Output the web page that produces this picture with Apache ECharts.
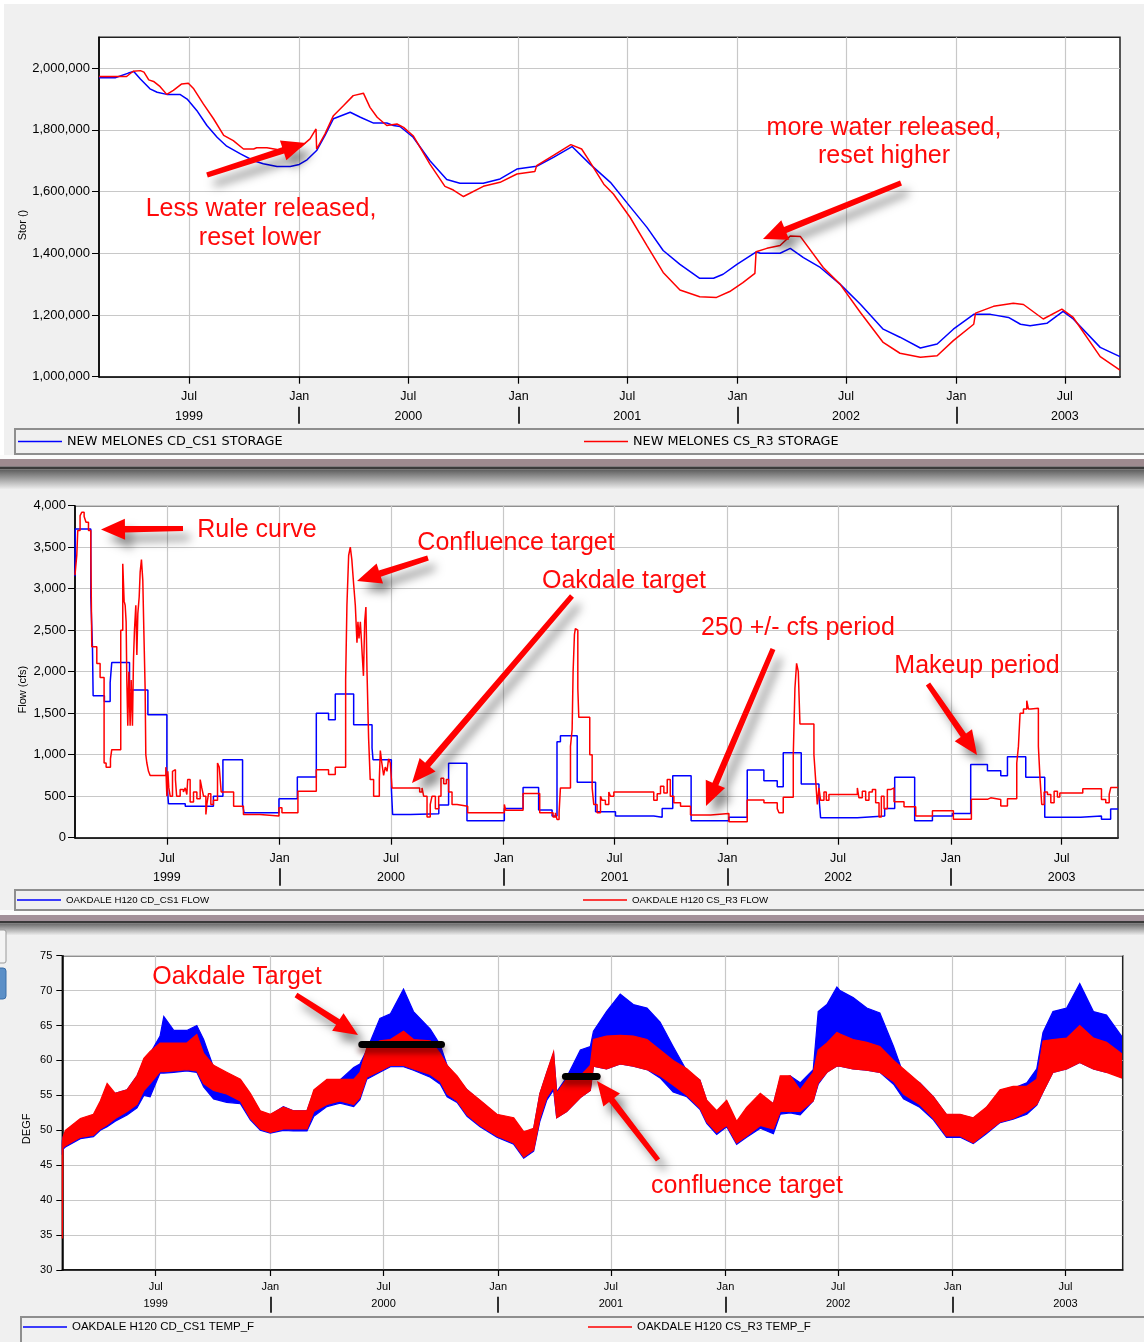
<!DOCTYPE html>
<html>
<head>
<meta charset="utf-8">
<script src="https://cdn.jsdelivr.net/npm/echarts@6/dist/echarts.min.js"></script>
<style>
html,body{margin:0;padding:0;background:#f0f0f0;}
#c{width:1144px;height:1342px;}
</style>
</head>
<body>
<div id="c"></div>
<script>
// ---------- time base: x values are day offsets from 1999-02-01 ----------
const START_DATE = '1999-02-01';
const END_DAY = 1703; // 2003-10-01

// ---------- axis tick labels ----------
const halfYearTickDates = ['1999-07-01','2000-01-01','2000-07-01','2001-01-01','2001-07-01','2002-01-01','2002-07-01','2003-01-01','2003-07-01'];
const yearSeparatorDates = ['2000-01-01','2001-01-01','2002-01-01','2003-01-01'];
const yearLabelDates = ['1999-07-01','2000-07-01','2001-07-01','2002-07-01','2003-07-01'];
const storageTicks = [1000000,1200000,1400000,1600000,1800000,2000000];

// ---------- panel 1: New Melones storage (acre-feet) [day, value] ----------
const storageCD = [[0,1969000],[27,1969000],[49,1984000],[58,1989000],[69,1965000],[85,1933000],[97,1922000],[113,1915000],[135,1915000],[147,1900000],[163,1863000],[180,1814000],[197,1776000],[213,1747000],[236,1722000],[258,1700000],[274,1690000],[297,1681000],[319,1681000],[334,1688000],[347,1703000],[363,1733000],[377,1782000],[391,1836000],[419,1857000],[436,1841000],[458,1822000],[480,1822000],[491,1814000],[502,1811000],[524,1776000],[552,1700000],[580,1639000],[602,1627000],[641,1627000],[669,1641000],[697,1673000],[730,1682000],[758,1711000],[789,1746000],[819,1689000],[853,1630000],[880,1565000],[914,1484000],[941,1409000],[969,1364000],[1002,1319000],[1025,1319000],[1041,1332000],[1064,1364000],[1097,1405000],[1103,1400000],[1136,1400000],[1153,1416000],[1175,1386000],[1203,1354000],[1236,1300000],[1270,1235000],[1308,1154000],[1336,1128000],[1370,1093000],[1398,1106000],[1425,1154000],[1459,1202000],[1487,1202000],[1517,1192000],[1537,1170000],[1553,1165000],[1581,1173000],[1608,1212000],[1625,1187000],[1670,1095000],[1703,1065000]];
const storageCS = [[0,1973000],[46,1973000],[57,1990000],[69,1992000],[75,1987000],[83,1962000],[91,1957000],[102,1940000],[113,1915000],[124,1928000],[138,1949000],[149,1951000],[158,1933000],[174,1884000],[191,1836000],[208,1782000],[224,1765000],[241,1738000],[258,1738000],[263,1742000],[280,1742000],[297,1736000],[313,1728000],[336,1744000],[352,1771000],[362,1803000],[363,1738000],[377,1787000],[391,1846000],[408,1879000],[424,1911000],[441,1919000],[452,1873000],[464,1841000],[480,1814000],[497,1819000],[508,1808000],[524,1781000],[552,1689000],[577,1617000],[591,1605000],[608,1584000],[641,1617000],[669,1630000],[697,1657000],[727,1665000],[730,1684000],[758,1717000],[787,1752000],[805,1738000],[816,1705000],[842,1624000],[858,1592000],[886,1516000],[914,1425000],[941,1338000],[969,1281000],[1002,1259000],[1030,1257000],[1052,1276000],[1074,1305000],[1094,1335000],[1096,1405000],[1114,1416000],[1136,1425000],[1153,1456000],[1170,1454000],[1208,1354000],[1236,1300000],[1270,1208000],[1308,1111000],[1336,1076000],[1370,1063000],[1398,1068000],[1425,1117000],[1459,1170000],[1462,1206000],[1492,1228000],[1525,1238000],[1542,1234000],[1575,1187000],[1606,1219000],[1625,1192000],[1670,1065000],[1703,1021000]];

// ---------- panel 2: Oakdale flow (cfs) [day, value], each value holds until next day ----------
const flowCD = [[0,3150],[0.5,3720],[25.8,2900],[26.9,2650],[28.5,2300],[29.6,1710],[48,1640],[57.4,1870],[60,2110],[89,1780],[119,1480],[150,820],[151,580],[152.6,410],[180,380],[226,500],[241.5,940],[273.6,400],[276,300],[333,470],[363,730],[394,1500],[414,1420],[425,1730],[455,1360],[485,1080],[486.6,940],[516.5,600],[518.6,280],[547.5,290],[594,394],[610,896],[640,205],[701,353],[731.6,606],[757,333],[779,260],[787,1157],[792.6,1229],[820,667],[850,313],[882.5,261],[945,245],[958.7,353],[976,747],[1006,205],[1067.7,245],[1097.6,815],[1124.8,687],[1146.6,614],[1156.4,1024],[1185.8,647],[1214.7,494],[1217.4,241],[1277.4,261],[1322,353],[1338.4,727],[1371,205],[1400,261],[1432.6,293],[1462.5,883],[1489.8,807],[1511.6,747],[1522.5,976],[1552.4,727],[1583.4,245],[1642,261],[1676,221],[1691,345],[1703,345]];
const flowCS = [[0,3165],[2.9,3400],[4.5,3700],[8.3,3880],[11,3920],[14.9,3870],[18,3800],[22,3700],[25.8,3500],[27.4,2300],[35.6,2100],[41,1930],[47.5,900],[50.8,850],[57.9,950],[60,1060],[74.7,2500],[78,3300],[80.2,2850],[81.9,2800],[83.5,2600],[84.6,1900],[86.2,1350],[87.9,2000],[90,1350],[91.7,1900],[93.8,1350],[95.5,2150],[97.1,2500],[99.3,2800],[101,2200],[102.6,2700],[104.8,2900],[106.4,3200],[108.5,3350],[110.7,3100],[112.4,2500],[114.5,1800],[115.6,1000],[117.3,900],[120,800],[122.7,750],[148.3,850],[150,500],[151.6,800],[153.2,600],[155.4,500],[159.2,800],[162,820],[164,700],[166,500],[171.7,580],[177,550],[180,600],[182.6,520],[184,700],[188,430],[193.5,550],[199,470],[204.4,700],[207,600],[209.9,500],[213.7,280],[215.3,400],[218,530],[221.8,400],[226,450],[232.7,900],[235.5,850],[238.7,550],[259,380],[275,280],[302,260],[333,360],[337.9,300],[364,560],[394,820],[414,760],[425,850],[441.9,1900],[444,2800],[446.8,3400],[449.5,3500],[452,3350],[455,3050],[457.7,2800],[460.4,2350],[462,2600],[463.7,2400],[465.9,2600],[467.5,2400],[469,2200],[471,1950],[473,2600],[475,2780],[476.8,2000],[479.4,1200],[482,700],[487.6,500],[496.9,700],[498.5,1050],[501,900],[503.9,750],[506.6,850],[509.4,800],[512,950],[514.8,900],[517.6,600],[562.8,550],[566.6,600],[569.3,500],[574.8,250],[580,400],[583,500],[588.4,350],[593.8,500],[597.6,715],[602,650],[606.3,700],[610,550],[615.6,400],[623.8,380],[641.2,300],[701,400],[703.3,330],[731.6,534],[758.8,300],[780.6,250],[784.4,300],[787,220],[790.4,300],[792.6,600],[809,1100],[811.7,1300],[813.3,2000],[815.5,2450],[817,2520],[819.8,2500],[821,1800],[822.6,1450],[840.5,1000],[844.4,600],[847,400],[852.5,300],[858,500],[860.7,450],[866,400],[871.6,550],[874.3,500],[879.8,550],[945,450],[950.6,530],[956,620],[961.5,540],[967,700],[972,500],[977.8,420],[988.7,380],[1005,273],[1037.7,293],[1067.7,193],[1097.6,454],[1124.9,420],[1146.6,350],[1149.4,300],[1156.4,486],[1172.8,1000],[1175.5,1800],[1178.2,2100],[1181,2000],[1183.7,1370],[1206.5,1000],[1209.3,700],[1212,400],[1214.7,600],[1217.4,450],[1222.9,550],[1226.7,450],[1231,520],[1277.4,600],[1280,480],[1285.5,560],[1291,450],[1296.4,550],[1301.9,580],[1307.3,420],[1312.8,250],[1316.6,500],[1321,350],[1326.4,580],[1331.8,600],[1337.3,434],[1353.6,373],[1372.7,260],[1400,325],[1434.2,221],[1463.6,462],[1489.8,480],[1495.2,460],[1511.6,381],[1522.5,470],[1537.7,900],[1540.4,1100],[1543.1,1500],[1548.6,1550],[1554,1650],[1556.8,1550],[1560.6,1560],[1573,1100],[1575.8,700],[1578.5,400],[1582.4,550],[1587.8,520],[1593.3,420],[1598.7,560],[1604.1,490],[1608,540],[1645.5,590],[1676,460],[1683,420],[1688.6,520],[1691.3,606],[1703,606]];

// ---------- panel 3: Oakdale temperature (deg F), envelope of the daily swing ----------
const tempDays = [0,1,5,29,50,61,72,85,104,120,
  131,141,157,163,179,200,216,227,243,264,
  286,302,318,334,355,371,393,404,425,446,
  468,478,489,510,527,548,564,591,607,618,
  634,650,671,698,725,741,757,767,778,789,
  794,810,832,848,853,874,896,917,939,960,
  981,1003,1024,1035,1051,1067,1083,1099,1121,1142,
  1153,1169,1185,1206,1214,1228,1244,1249,1270,1292,
  1313,1335,1351,1377,1399,1420,1442,1463,1484,1506,
  1527,1549,1565,1575,1591,1613,1634,1656,1677,1701];
const tempCSLow = [34.5,47.5,47.8,49,49.3,50.2,50.8,51.7,52.7,53.7,
  55.7,56.7,58.4,58.4,58.5,58.7,58.5,56.7,55.7,55.2,
  54.2,51.7,50.2,49.7,50.2,50.2,50.2,52.7,53.7,54.2,
  53.7,54.7,57.6,58.5,59.3,59.3,58.8,58,57,55.2,
  54.2,52.2,50.7,49.2,48.2,46.2,47.2,51.7,54.7,56.2,
  51.8,52.7,54.7,55.7,59.2,58.8,59.5,59.2,58.7,57.8,
  56.5,55,53.2,51.2,49.7,50.7,48.2,49.2,50.7,50.2,
  52.7,52.7,52.7,54.2,56.8,58.3,59.2,59.2,58.8,58.6,
  58.3,57,55.2,53.7,51.7,49.2,49.2,48.2,49.7,51.2,
  51.7,52.7,53.7,55.5,58.3,58.8,59.7,58.8,58.3,57.5];
const tempCSHigh = [48,49,50,51.7,52.3,54.2,56.7,55.3,55.8,57.8,
  60.3,61.3,62.5,62.5,62.5,62.5,63.7,61,59.3,58.3,
  57.3,55.3,52.8,52.3,53.3,52.8,52.8,55.8,57.3,57.3,
  57.3,58.3,61.8,62.8,63,64.2,63,62.8,61,59.3,
  57.8,55.8,54.3,52.3,51.8,49.8,50.3,55.3,58.3,61.2,
  55.3,57.3,57.8,59.3,63,63.5,63.6,63.5,63,61.5,
  60,58.8,57.2,54.3,52.8,54.3,51.3,53.3,55.3,53.8,
  57.8,57.8,55.8,58.3,61.5,62.5,64,63.8,63,62.6,
  62,60,58.8,56.8,54.8,52.3,52.3,51.8,53.3,55.8,
  56.3,56.3,57.3,62.8,63,63.2,65,63.2,62.6,61];
const tempCDLow = [46.5,47.3,47.6,48.8,49.1,50,50.5,51.3,52.2,53.2,
  55,54.8,58.2,58.2,58.3,58.5,58.3,56.2,54.5,54,
  53.8,51.5,50,49.6,50,49.9,49.9,52,53.4,53.9,
  53.4,54.4,57.3,58.3,59.1,59.1,58.6,57.6,56.6,54.8,
  54,52,50.5,49,48,46,47,51.3,54.3,55.8,
  51.8,52.7,54.7,55.7,59.2,58.8,59.5,59.2,58.7,57.5,
  55.5,54.8,53,51,49.4,50.5,48,49,50.3,49.5,
  52.3,52.5,52.2,54.2,56.6,58.3,59.2,59.2,58.8,58.6,
  58.3,56.6,54.5,53.3,51.5,49,49,48.1,49.5,51.1,
  51.6,52.3,53.6,55.5,58.3,58.8,59.7,58.8,58.3,59.5];
const tempCDHigh = [48.5,49,49.8,51.5,52,53.8,55.5,55.3,55.8,57.8,
  60,61,63.5,66.3,64.3,64.3,65,63,59,58,
  57.2,55,52.7,52.2,53.4,52.8,52.8,55.5,57,57.2,
  59,59.5,61.5,66,66.7,70.2,67,64.5,62.2,59.3,
  57.5,55.8,54.2,52.2,51.5,49.6,50.2,55.2,58.2,61,
  55.5,57.6,61.5,62,64.2,67,69.5,68,67.5,65.5,
  62,58.5,57.2,54.2,52.6,54,51.1,52.9,55,53.8,
  57.4,57.8,56.8,58.7,67,68,70.5,70,69,67.5,
  66.8,62,58,56.8,54.8,52.2,52.2,51.7,53.2,55.5,
  56,56.8,58.8,64,67,67.5,71,67,66.5,63.5];

// target bars (day range, temperature)
const oakdaleTargetDays = [481, 609];
const oakdaleTargetTemp = 62.3;
const confluenceTargetDays = [808, 859];
const confluenceTargetTemp = 57.7;

// ---------- names ----------
const NAMES = {
  stCD: 'NEW MELONES CD_CS1 STORAGE', stCS: 'NEW MELONES CS_R3 STORAGE',
  flCD: 'OAKDALE H120 CD_CS1 FLOW', flCS: 'OAKDALE H120 CS_R3 FLOW',
  tpCD: 'OAKDALE H120 CD_CS1 TEMP_F', tpCS: 'OAKDALE H120 CS_R3 TEMP_F'
};

// ---------- helpers ----------
const DAY_MS = 86400000;
const T0 = Date.parse(START_DATE);
const toT = d => T0 + d * DAY_MS;
const X_MIN = toT(0), X_MAX = toT(END_DAY);
const halfYearTicks = halfYearTickDates.map(s => Date.parse(s));
const yearSeps = yearSeparatorDates.map(s => Date.parse(s));
const yearLabels = yearLabelDates.map(s => Date.parse(s));
const pairs = arr => arr.map(p => [toT(p[0]), p[1]]);
const thousands = v => String(v).replace(/\B(?=(\d{3})+(?!\d))/g, ',');
const FONT = '"Liberation Sans", Arial, sans-serif';
const BLUE = '#0000ff', RED = '#ff0000';

const BLACK_LINE = {color:'#000', width:1.5};
const GRIDLINE = {color:'#c8c8c8', width:1.2};

// x axes are numeric time axes (ms since epoch) with the date ticks given above
function mainX(gridIndex, margin, fontSize, tickLen) {
  return {
    type:'value', gridIndex, min:X_MIN, max:X_MAX, scale:true,
    axisLine:{show:true, lineStyle:BLACK_LINE},
    axisTick:{show:true, customValues:halfYearTicks, length:tickLen, lineStyle:{color:'#000', width:1.2}},
    axisLabel:{customValues:halfYearTicks, margin, fontSize, color:'#000', fontFamily:FONT,
      formatter: v => new Date(v).getUTCMonth() === 0 ? 'Jan' : 'Jul'},
    splitLine:{show:true, lineStyle:GRIDLINE}
  };
}
function yearX(gridIndex, offset, tickLen, margin, fontSize) {
  return {
    type:'value', gridIndex, min:X_MIN, max:X_MAX, scale:true, position:'bottom', offset,
    axisLine:{show:false},
    axisTick:{show:true, customValues:yearSeps, length:tickLen, lineStyle:{color:'#000', width:1.6}},
    axisLabel:{customValues:yearLabels, margin, fontSize, color:'#000', fontFamily:FONT,
      formatter: v => String(new Date(v).getUTCFullYear())},
    splitLine:{show:false}
  };
}

const lineSeries = (name, data, color, xi, yi, extra) => Object.assign({
  type:'line', name, data:pairs(data), xAxisIndex:xi, yAxisIndex:yi,
  showSymbol:false, symbol:'none', color, lineStyle:{width:1.5, color}, animation:false, silent:true
}, extra || {});

// temperature band: polygon between low and high envelopes, positioned with api.coord
function bandSeries(name, low, high, color, z) {
  const data = tempDays.map((d,i) => [toT(d), low[i], high[i]]);
  return {
    type:'custom', name, xAxisIndex:4, yAxisIndex:2, data, encode:{x:0, y:[1,2]},
    z, silent:true, animation:false, itemStyle:{color},
    renderItem(params, api) {
      if (params.dataIndexInside !== 0) return null;
      const n = params.dataInsideLength;
      const top = [], bot = [];
      for (let j = 0; j < n; j++) {
        const x = api.value(0, j);
        top.push(api.coord([x, api.value(2, j)]));
        bot.push(api.coord([x, api.value(1, j)]));
      }
      return {type:'polygon', shape:{points: top.concat(bot.reverse())},
        style:{fill:color, stroke:color, lineWidth:1.2}};
    }
  };
}

function targetBar(days, temp) {
  return {type:'line', data:[[toT(days[0]), temp],[toT(days[1]), temp]], xAxisIndex:4, yAxisIndex:2,
    symbol:'none', showSymbol:false, animation:false, silent:true, z:6,
    lineStyle:{color:'#000', width:7, cap:'round', shadowColor:'rgba(60,0,0,0.6)', shadowBlur:6, shadowOffsetY:5}};
}

function legend(name, left, top, fontSize, fontFamily) {
  return {data:[name], left, top, padding:0, icon:'rect', itemWidth:44, itemHeight:1.5,
    selectedMode:false, textStyle:{fontSize, color:'#000', fontFamily}};
}

// ---------- annotation graphics ----------
function arrow(x1, y1, x2, y2, shaft, headL, headW) {
  shaft = shaft || 6.5; headL = headL || 24; headW = headW || 21;
  const dx = x2-x1, dy = y2-y1, L = Math.hypot(dx,dy), ux = dx/L, uy = dy/L, nx = -uy, ny = ux;
  const bx = x2-ux*headL, by = y2-uy*headL, s = shaft/2, h = headW/2;
  const pts = [[x1+nx*s*0.8, y1+ny*s*0.8],[bx+nx*s, by+ny*s],[bx+nx*h, by+ny*h],[x2,y2],
               [bx-nx*h, by-ny*h],[bx-nx*s, by-ny*s],[x1-nx*s*0.8, y1-ny*s*0.8]];
  return {type:'polygon', z:100, silent:true, shape:{points:pts},
    style:{fill:'#ff0000', shadowBlur:10, shadowOffsetX:7, shadowOffsetY:9, shadowColor:'rgba(0,0,0,0.45)'}};
}
function note(text, x, y, size) {
  return {type:'text', z:100, silent:true, x, y,
    style:{text, fill:'#ff0a0a', fontSize:size || 25, fontFamily:FONT, align:'center', verticalAlign:'middle'}};
}
function rect(x, y, w, h, fill, extra) {
  return Object.assign({type:'rect', silent:true, z:0, shape:{x, y, width:w, height:h}, style:{fill}}, extra || {});
}
const fade = c => new echarts.graphic.LinearGradient(0,0,0,1,[{offset:0,color:c},{offset:1,color:'#f0f0f0'}]);
function boxOutline(x, y, w, h) {
  return {type:'rect', silent:true, z:1, shape:{x, y, width:w, height:h},
    style:{fill:'none', stroke:'#8e8e8e', lineWidth:2}};
}

const graphics = [
  rect(0, 0, 1144, 4, '#ffffff'),
  rect(0, 0, 4, 458, '#ffffff'),
  // separator 1
  rect(0, 455, 1144, 4, '#fbfbfb'),
  rect(0, 459, 1144, 7.5, '#9d8a8f'),
  rect(0, 466.5, 1144, 3, '#3a3a3a'),
  rect(0, 469.5, 1144, 20, fade('#5c5c5c')),
  // separator 2
  rect(0, 910, 1144, 5, '#fbfbfb'),
  rect(0, 915, 1144, 6, '#a3919a'),
  rect(0, 921, 1144, 2.5, '#3a3a3a'),
  rect(0, 923.5, 1144, 12, fade('#6a6a6a')),
  // small widget at left of panel 3
  {type:'rect', silent:true, z:1, shape:{x:-4, y:930, width:10, height:33, r:2}, style:{fill:'#f4f4f4', stroke:'#9a9a9a', lineWidth:1}},
  {type:'rect', silent:true, z:1, shape:{x:-4, y:968, width:10, height:31, r:3}, style:{fill:'#5b8fc7', stroke:'#3a6ea8', lineWidth:1}},
  // legend boxes
  boxOutline(15, 429, 1140, 25),
  boxOutline(15, 890, 1140, 20),
  boxOutline(21, 1317, 1140, 30),
  // panel 1 annotations
  arrow(207, 175, 306, 143),
  note('Less water released,', 261, 209),
  note('reset lower', 260, 238),
  arrow(901, 183, 763, 239),
  note('more water released,', 884, 128),
  note('reset higher', 884, 156),
  // panel 2 annotations
  arrow(183, 528.5, 101, 529.5),
  note('Rule curve', 257, 530),
  arrow(428, 558, 357, 581),
  note('Confluence target', 516, 543),
  arrow(572, 596, 412, 783),
  note('Oakdale target', 624, 581),
  arrow(773, 649, 706, 806),
  note('250 +/- cfs period', 798, 628),
  arrow(928, 684, 977, 755),
  note('Makeup period', 977, 666),
  // panel 3 annotations
  arrow(296, 995, 358, 1035),
  note('Oakdale Target', 237, 977),
  arrow(658, 1160, 597, 1081),
  note('confluence target', 747, 1186)
];

const option = {
  backgroundColor:'#f0f0f0',
  animation:false,
  grid:[
    {left:99, top:37.3, width:1021, height:339.4, show:true, backgroundColor:'#ffffff', borderColor:'#222', borderWidth:1.5},
    {left:75, top:505.7, width:1043, height:332, show:true, backgroundColor:'#ffffff', borderColor:'#222', borderWidth:1.5},
    {left:62.3, top:955.7, width:1060.4, height:314.3, show:true, backgroundColor:'#ffffff', borderColor:'#222', borderWidth:1.5}
  ],
  xAxis:[
    mainX(0, 13, 12.5, 7), yearX(0, 30, 17, 3, 12.5),
    mainX(1, 14, 12.5, 7), yearX(1, 30.6, 17.5, 3, 12.5),
    mainX(2, 11, 11, 6), yearX(2, 26.7, 16, 2, 11)
  ],
  yAxis:[
    {type:'value', gridIndex:0, min:1000000, max:2100000, interval:200000,
     axisLine:{show:true, lineStyle:BLACK_LINE},
     axisTick:{show:true, customValues:storageTicks, length:7, lineStyle:{color:'#000'}},
     axisLabel:{customValues:storageTicks, formatter:thousands, fontSize:13, margin:9, color:'#000', fontFamily:FONT},
     splitLine:{show:true, lineStyle:GRIDLINE},
     name:'Stor ()', nameLocation:'middle', nameRotate:90, nameGap:71, nameMoveOverlap:false,
     nameTextStyle:{fontSize:11, color:'#000', fontFamily:FONT, padding:[0,36,0,0]}},
    {type:'value', gridIndex:1, min:0, max:4000, interval:500,
     axisLine:{show:true, lineStyle:BLACK_LINE},
     axisTick:{show:true, length:7, lineStyle:{color:'#000'}},
     axisLabel:{formatter:thousands, fontSize:13, margin:9, color:'#000', fontFamily:FONT},
     splitLine:{show:true, lineStyle:GRIDLINE},
     name:'Flow (cfs)', nameLocation:'middle', nameRotate:90, nameGap:47, nameMoveOverlap:false,
     nameTextStyle:{fontSize:11, color:'#000', fontFamily:FONT, padding:[0,36,0,0]}},
    {type:'value', gridIndex:2, min:30, max:75, interval:5,
     axisLine:{show:true, lineStyle:BLACK_LINE},
     axisTick:{show:true, length:6, lineStyle:{color:'#000'}},
     axisLabel:{fontSize:11, margin:10, color:'#000', fontFamily:FONT},
     splitLine:{show:true, lineStyle:GRIDLINE},
     name:'DEGF', nameLocation:'middle', nameRotate:90, nameGap:30, nameMoveOverlap:false,
     nameTextStyle:{fontSize:11, color:'#000', fontFamily:FONT, padding:[0,32,0,0]}}
  ],
  legend:[
    legend(NAMES.stCD, 18, 435, 12.8, '"DejaVu Sans", sans-serif'),
    legend(NAMES.stCS, 584, 435, 12.8, '"DejaVu Sans", sans-serif'),
    legend(NAMES.flCD, 17, 895, 9.7, FONT),
    legend(NAMES.flCS, 583, 895, 9.7, FONT),
    legend(NAMES.tpCD, 23, 1321, 11.5, FONT),
    legend(NAMES.tpCS, 588, 1321, 11.5, FONT)
  ],
  series:[
    lineSeries(NAMES.stCD, storageCD, BLUE, 0, 0, {z:3}),
    lineSeries(NAMES.stCS, storageCS, RED, 0, 0, {z:4}),
    lineSeries(NAMES.flCD, flowCD, BLUE, 2, 1, {step:'end', z:3}),
    lineSeries(NAMES.flCS, flowCS, RED, 2, 1, {step:'end', z:4}),
    bandSeries(NAMES.tpCD, tempCDLow, tempCDHigh, BLUE, 3),
    bandSeries(NAMES.tpCS, tempCSLow, tempCSHigh, RED, 4),
    targetBar(oakdaleTargetDays, oakdaleTargetTemp),
    targetBar(confluenceTargetDays, confluenceTargetTemp)
  ],
  graphic: graphics
};

const chart = echarts.init(document.getElementById('c'), null, {width:1144, height:1342});
chart.setOption(option);
</script>
</body>
</html>
